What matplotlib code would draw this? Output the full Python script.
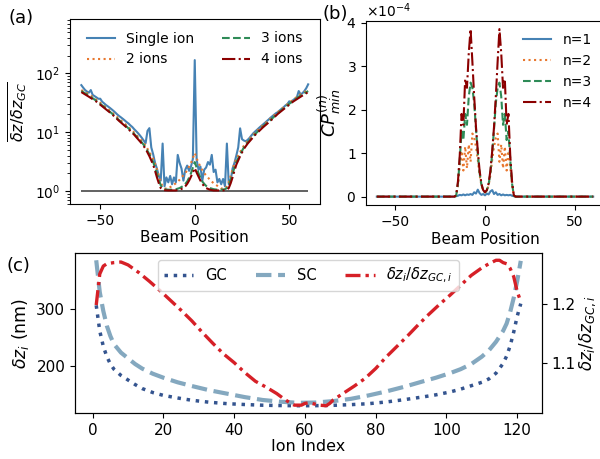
import numpy as np
import matplotlib
matplotlib.use("Agg")
import matplotlib.pyplot as plt

# ---------------- Panel (a) data ----------------
beam_single = np.arange(-60, 61)
single_ion = [63, 57, 52, 49, 47, 52, 43, 41, 39, 37,
              37, 33, 31, 29, 27.5, 26, 24.5, 23, 21.5, 20,
              18.8, 17.8, 16.8, 15.8, 14.8, 14, 13, 12.2, 11.2, 10.4,
              9.6, 8.8, 8, 7.2, 6.5, 10.5, 11.7, 5.5, 4.2, 3.0,
              2.4, 1.8, 1.5, 6.4, 1.2, 1.7, 1.4, 1.8, 1.3, 1.7,
              1.4, 4.1, 3.0, 2.4, 1.5, 2.3, 2.7, 2.2, 2.6, 3.5,
              168,
              3.4, 2.3, 2.6, 1.5, 2.3, 2.5, 3.1, 2.8, 4.1, 2.1,
              2.3, 1.4, 1.6, 1.3, 1.6, 1.2, 6.4, 1.3, 1.5, 2.4,
              3.0, 4.0, 5.5, 11.6, 7.6, 7.2, 7.0, 7.4, 8.0, 8.8,
              9.6, 10.3, 11.0, 11.8, 12.6, 13.4, 14.3, 15.3, 16.3, 17.5,
              18.6, 19.8, 21, 22, 23.5, 25, 26.5, 28.5, 30, 33.5,
              32, 35, 37, 39, 50, 44, 46, 50, 56, 65]

beam_multi = [-60, -56, -52, -48, -44, -40, -36, -32, -28, -26,
              -24, -22, -21, -20, -19, -18, -17, -16, -14, -12,
              -10, -8, -6, -5, -4, -3, -2, -1,
              0,
              1, 2, 3, 4, 5, 6, 8, 10,
              12, 14, 16, 17, 18, 19, 20, 21, 22, 24,
              26, 28, 32, 36, 40, 44, 48, 52, 56, 60]
ions_2 = [52, 44, 35.5, 28, 22, 16.8, 13, 9.8, 7.1, 5.9,
          4.6, 3.5, 2.9, 2.3, 1.8, 1.4, 1.2, 1.1, 1.1, 1.22,
          1.35, 1.55, 1.85, 2.0, 2.25, 2.6, 3.0, 3.6,
          4.4,
          3.6, 3.0, 2.6, 2.25, 2.0, 1.85, 1.55, 1.35,
          1.22, 1.1, 1.1, 1.2, 1.4, 1.8, 2.3, 2.9, 3.5, 4.6,
          5.9, 7.1, 9.8, 13, 16.8, 22, 28, 35.5, 44, 52]
ions_3 = [50, 42, 34, 27, 21, 16, 12.4, 9.3, 6.7, 5.5,
          4.2, 3.1, 2.5, 1.95, 1.55, 1.25, 1.12, 1.07, 1.05, 1.05,
          1.07, 1.12, 1.22, 1.32, 1.45, 1.68, 2.0, 2.5,
          3.1,
          2.5, 2.0, 1.68, 1.45, 1.32, 1.22, 1.12, 1.07,
          1.05, 1.05, 1.07, 1.12, 1.25, 1.55, 1.95, 2.5, 3.1, 4.2,
          5.5, 6.7, 9.3, 12.4, 16, 21, 27, 34, 42, 50]
ions_4 = [48, 40, 33, 26, 20.5, 15.5, 12, 9, 6.4, 5.2,
          3.9, 2.8, 2.2, 1.7, 1.35, 1.12, 1.05, 1.03, 1.02, 1.02,
          1.02, 1.05, 1.12, 1.2, 1.32, 1.5, 1.75, 2.05,
          2.45,
          2.05, 1.75, 1.5, 1.32, 1.2, 1.12, 1.05, 1.02,
          1.02, 1.02, 1.03, 1.05, 1.12, 1.35, 1.7, 2.2, 2.8, 3.9,
          5.2, 6.4, 9, 12, 15.5, 20.5, 26, 33, 40, 48]

# ---------------- Panel (b) data (units of 1e-4) ----------------
beam_b = [-60, -17, -16, -15, -14, -13, -12, -11, -10, -9, -8, -7, -6, -5, -4, -3, -2, -1,
          0, 1, 2, 3, 4, 5, 6, 7, 8, 9, 10, 11, 12, 13, 14, 15, 16, 17, 60]
cp_n1 = [0, 0, 0.01, 0.02, 0.04, 0.03, 0.05, 0.03, 0.05, 0.04, 0.06, 0.04, 0.1, 0.07, 0.16, 0.08, 0.04, 0.06,
         0.03, 0.07, 0.05, 0.12, 0.15, 0.06, 0.1, 0.04, 0.06, 0.03, 0.05, 0.03, 0.04, 0.03, 0.04, 0.02, 0.01, 0, 0]
cp_n2 = [0, 0, 0.02, 0.25, 0.7, 1.05, 0.6, 1.15, 0.65, 1.2, 0.8, 1.45, 1.35, 1.15, 0.85, 0.5, 0.26, 0.13,
         0.1, 0.13, 0.26, 0.5, 0.85, 1.15, 1.35, 1.45, 0.8, 1.2, 0.65, 1.15, 0.6, 1.05, 0.7, 0.25, 0.02, 0, 0]
cp_n3 = [0, 0, 0.02, 0.3, 0.85, 1.5, 1.3, 1.9, 1.65, 2.3, 2.62, 2.5, 2.15, 1.55, 1.0, 0.55, 0.28, 0.14,
         0.1, 0.14, 0.28, 0.55, 1.0, 1.55, 2.15, 2.5, 2.62, 2.3, 1.65, 1.9, 1.3, 1.5, 0.85, 0.3, 0.02, 0, 0]
cp_n4 = [0, 0, 0.03, 0.35, 0.95, 1.9, 1.65, 2.7, 2.5, 3.3, 3.85, 3.1, 2.3, 1.6, 1.05, 0.6, 0.3, 0.15,
         0.1, 0.15, 0.3, 0.6, 1.05, 1.6, 2.3, 3.1, 3.85, 3.3, 2.5, 2.7, 1.65, 1.9, 0.95, 0.35, 0.03, 0, 0]

# ---------------- Panel (c) data ----------------
ion_idx = [1, 2, 3, 4, 5, 6, 8, 10, 12, 14,
           17, 20, 24, 28, 33, 38, 43, 48, 53, 58,
           63, 68, 73, 78, 83, 88, 93, 97, 101, 104,
           107, 110, 112, 114, 116, 117, 118, 119, 120, 121]
dz_gc = [307, 262, 235, 217, 204, 195, 184, 176, 168, 161,
         154, 149, 144.5, 140.5, 137, 134.5, 133, 131.8, 131.2, 130.9,
         131, 131.6, 132.8, 134.5, 137.5, 141.5, 146, 150, 155, 160,
         166, 172, 178, 188, 205, 218, 236, 260, 288, 310]
dz_sc = [386, 330, 297, 271, 253, 239, 224, 214, 204, 196,
         187, 180, 172, 165.5, 158, 152, 146, 141, 138, 136,
         136.5, 139, 143, 149, 156, 164, 173, 180, 188, 195,
         204, 217, 228, 243, 262, 275, 295, 320, 350, 385]
ratio_idx = [1, 2, 3, 4, 6, 8, 10, 13, 16, 19,
             22, 25, 28, 31, 34, 37, 40, 43, 46, 49,
             52, 54, 56, 57, 59, 60, 61, 62, 64, 66,
             67, 68, 71, 74, 77, 80, 83, 86, 89, 92,
             95, 98, 101, 104, 107, 110, 112, 114, 115, 116,
             117, 118, 119, 120, 121]
ratio = [1.199, 1.2525, 1.266, 1.27, 1.272, 1.273, 1.268, 1.255, 1.24, 1.224,
         1.207, 1.19, 1.172, 1.152, 1.133, 1.115, 1.1, 1.083, 1.068, 1.058,
         1.047, 1.038, 1.03, 1.027, 1.027, 1.03, 1.031, 1.03, 1.027, 1.026,
         1.03, 1.036, 1.048, 1.06, 1.073, 1.09, 1.11, 1.128, 1.146, 1.165,
         1.183, 1.2, 1.216, 1.233, 1.25, 1.263, 1.27, 1.276, 1.276, 1.272,
         1.27, 1.262, 1.248, 1.222, 1.205]

c_blue = '#4682b4'
c_orange = '#e8772e'
c_green = '#2e8b57'
c_dred = '#8b0000'

fig = plt.figure(figsize=(6, 4.59), dpi=100)

# ---- (a)
ax_a = fig.add_axes([70/600, 1-204/459, 249.5/600, 185/459])
ax_a.hlines(1, -60, 60, color='#555555', lw=1.3, zorder=1)
ax_a.plot(beam_single, single_ion, color=c_blue, lw=1.5, ls='-', label='Single ion')
ax_a.plot(beam_multi, ions_2, color=c_orange, lw=1.5, ls=':', label='2 ions')
ax_a.plot(beam_multi, ions_3, color=c_green, lw=1.5, ls='--', label='3 ions')
ax_a.plot(beam_multi, ions_4, color=c_dred, lw=1.5, ls='-.', label='4 ions')
ax_a.set_yscale('log')
ax_a.set_ylim(0.6, 840)
ax_a.set_xlim(-66, 66)
ax_a.set_xticks([-50, 0, 50])
ax_a.tick_params(labelsize=10)
ax_a.set_xlabel('Beam Position', fontsize=11, labelpad=2)
ax_a.set_ylabel(r'$\overline{\delta z/\delta z_{GC}}$', fontsize=11.5)
ax_a.legend(loc='upper center', ncol=2, frameon=False, fontsize=10)

# ---- (b)
ax_b = fig.add_axes([366/600, 1-205/459, 238/600, 184.3/459])
ax_b.plot(beam_b, np.array(cp_n1) * 1e-4, color=c_blue, lw=1.5, ls='-', label='n=1')
ax_b.plot(beam_b, np.array(cp_n2) * 1e-4, color=c_orange, lw=1.5, ls=':', label='n=2')
ax_b.plot(beam_b, np.array(cp_n3) * 1e-4, color=c_green, lw=1.5, ls='--', label='n=3')
ax_b.plot(beam_b, np.array(cp_n4) * 1e-4, color=c_dred, lw=1.5, ls='-.', label='n=4')
ax_b.set_xlim(-66, 66)
ax_b.set_xticks([-50, 0, 50])
ax_b.ticklabel_format(style='sci', axis='y', scilimits=(0, 0), useMathText=True)
ax_b.yaxis.get_offset_text().set_fontsize(10)
ax_b.tick_params(labelsize=10)
ax_b.set_xlabel('Beam Position', fontsize=11, labelpad=2)
ax_b.set_ylabel(r'$CP^{(n)}_{min}$', fontsize=13, labelpad=2)
ax_b.legend(loc='upper right', frameon=False, fontsize=10)

# ---- (c)
ax_c = fig.add_axes([75/600, 1-413/459, 467/600, 160/459])
l1, = ax_c.plot(ion_idx, dz_gc, color='#34548f', lw=2.5, ls=':', label='GC')
l2, = ax_c.plot(ion_idx, dz_sc, color='#84a8bf', lw=3, ls='--', label='SC')
ax_c.set_xticks([0, 20, 40, 60, 80, 100, 120])
ax_c.set_yticks([200, 300])
ax_c.tick_params(labelsize=11)
ax_c.set_xlabel('Ion Index', fontsize=11.5, labelpad=1)
ax_c.set_ylabel(r'$\delta z_i$ (nm)', fontsize=12.5)
ax_c2 = ax_c.twinx()
l3, = ax_c2.plot(ratio_idx, ratio, color='#d62027', lw=2.4, ls=(0, (4.5, 1.5, 1, 1.5)),
                 label=r'$\delta z_i/\delta z_{GC,i}$')
ax_c2.set_yticks([1.1, 1.2])
ax_c2.tick_params(labelsize=11)
ax_c2.set_ylabel(r'$\delta z_i/\delta z_{GC,i}$', fontsize=12, labelpad=1)
ax_c2.legend(handles=[l1, l2, l3], loc='upper center', ncol=3, fontsize=10.5)

fig.text(8/600, 1-18/459, '(a)', fontsize=13, va='center', ha='left')
fig.text(323/600, 1-14/459, '(b)', fontsize=13, va='center', ha='left')
fig.text(7/600, 1-266/459, '(c)', fontsize=13, va='center', ha='left')

fig.savefig('out.png', dpi=100)
